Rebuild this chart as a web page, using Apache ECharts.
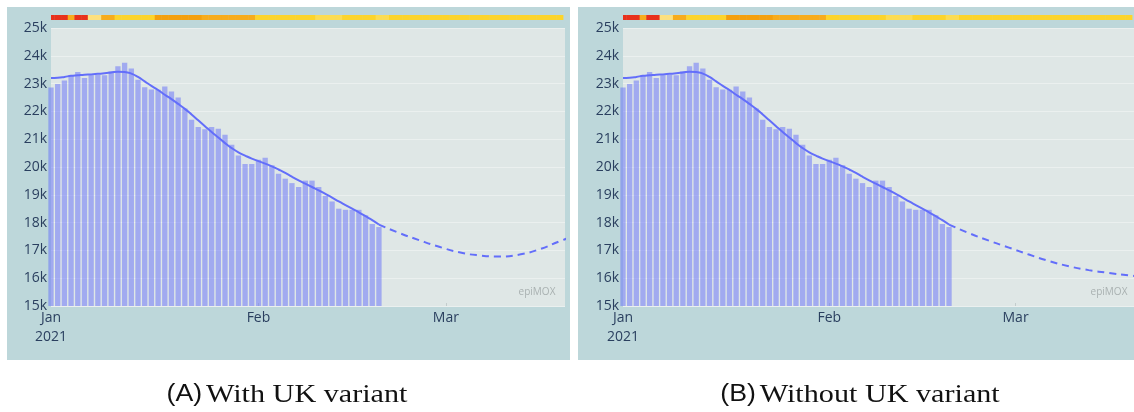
<!DOCTYPE html>
<html>
<head>
<meta charset="UTF-8">
<title>epiMOX forecast</title>
<script src="https://cdn.jsdelivr.net/npm/echarts@6/dist/echarts.min.js"></script>
<style>
  html, body { margin: 0; padding: 0; background: #fff; }
  #main { width: 1134px; height: 412px; }
</style>
</head>
<body>
<div id="main"></div>
<script type="text/javascript">
// daily observed values (one bar per day from 1 Jan 2021)
var barValues = [
  22860, 22990, 23110, 23300, 23420, 23200, 23300, 23320, 23300, 23440,
  23620, 23750, 23540, 23140, 22870, 22790, 22780, 22900, 22720, 22500,
  22100, 21700, 21440, 21360, 21440, 21380, 21160, 20800, 20410, 20110,
  20110, 20260, 20330, 20060, 19760, 19580, 19420, 19280, 19510, 19510,
  19280, 18960, 18760, 18500, 18460, 18460, 18460, 18260, 17950, 17840
];
// smoothed trend, same days as the bars
var trendValues = [
  23200, 23210, 23240, 23280, 23300, 23320, 23330, 23350, 23370, 23400,
  23430, 23420, 23360, 23240, 23080, 22920, 22770, 22600, 22440, 22270,
  22090, 21890, 21680, 21470, 21260, 21060, 20860, 20680, 20530, 20410,
  20300, 20210, 20120, 20020, 19910, 19790, 19650, 19520, 19400, 19280,
  19160, 19030, 18900, 18760, 18630, 18500, 18370, 18230, 18090, 17930
];
// forecasts (dashed), day numbers counted from 1 Jan
var forecastDays = [49, 52, 55, 58, 61, 64, 67, 70, 73, 76, 77];
var forecastA = [17930, 17630, 17370, 17130, 16930, 16820, 16780, 16850, 17040, 17330, 17420];
var forecastB = [17930, 17620, 17350, 17100, 16850, 16620, 16430, 16290, 16190, 16100, 16080];
// colour level of the strip above the plot, one per day
var stripLevels = [
  0, 0, 0, 2, 0, 0, 4, 4, 2, 2,
  3, 3, 3, 3, 3, 3, 1, 1, 1, 1,
  1, 1, 1, 2, 2, 2, 2, 2, 2, 2,
  2, 3, 3, 3, 3, 3, 3, 3, 3, 3,
  5, 5, 5, 5, 3, 3, 3, 3, 3, 5,
  5, 3, 3, 3, 3, 3, 3, 3, 3, 3,
  3, 3, 3, 3, 3, 3, 3, 3, 3, 3,
  3, 3, 3, 3, 3, 3, 3
];
var stripColors = ['#e8311c', '#f4a00e', '#f7ac1c', '#fcd42c', '#fde07e', '#fcdc52'];
var monthTicks = [0, 31, 59];
var monthNames = ['Jan\n2021', 'Feb', 'Mar'];
var captions = ['(A)', '(B)'];
var captionTexts = ['With UK variant', 'Without UK variant'];

var blue = '#636efa';
var textColor = '#2a3f5f';

var barData = barValues.map(function (v, i) { return [i, v]; });
var trendData = trendValues.map(function (v, i) { return [i, v]; });
var stripData = stripLevels.map(function (l, i) { return [i, l]; });
function zip(days, vals) {
  return days.map(function (d, i) { return [d, vals[i]]; });
}

function renderCell(params, api) {
  var d = api.value(0);
  var p0 = api.coord([d - 0.5, 1]);
  var p1 = api.coord([d + 0.5, 0]);
  var rect = echarts.graphic.clipRectByRect({
    x: p0[0], y: p0[1], width: p1[0] - p0[0] + 0.4, height: p1[1] - p0[1]
  }, params.coordSys);
  return rect && { type: 'rect', shape: rect, style: { fill: stripColors[api.value(1)] } };
}

var panelLeft = [51, 623];
var grids = [], xAxes = [], yAxes = [], series = [];
var forecasts = [forecastA, forecastB];

for (var p = 0; p < 2; p++) {
  // main plot
  grids.push({ left: panelLeft[p], top: 28, width: 514, height: 278, show: true,
    backgroundColor: '#dfe7e6', borderWidth: 0 });
  // colour strip
  grids.push({ left: panelLeft[p], top: 15, width: 514, height: 5 });

  xAxes.push({
    type: 'value', gridIndex: 2 * p, min: 0, max: 76.8,
    axisLine: { show: false },
    splitLine: { show: false },
    axisTick: { show: true, inside: true, length: 3, customValues: [31, 59],
      lineStyle: { color: '#c3cccc' } },
    axisLabel: {
      customValues: monthTicks, color: textColor, fontSize: 14, lineHeight: 19,
      fontFamily: 'Open Sans', margin: 3,
      formatter: function (v) { return monthNames[monthTicks.indexOf(v)]; }
    }
  });
  xAxes.push({ type: 'value', gridIndex: 2 * p + 1, min: 0, max: 76.8, show: false });

  yAxes.push({
    type: 'value', gridIndex: 2 * p, min: 15000, max: 25000, interval: 1000,
    axisLine: { show: false }, axisTick: { show: false },
    splitLine: { lineStyle: { color: '#ebf0ef', width: 1 } },
    axisLabel: { color: textColor, fontSize: 14, fontFamily: 'Open Sans', margin: 4,
      formatter: function (v) { return (v / 1000) + 'k'; } }
  });
  yAxes.push({ type: 'value', gridIndex: 2 * p + 1, min: 0, max: 1, show: false });

  series.push({
    type: 'bar', xAxisIndex: 2 * p, yAxisIndex: 2 * p, data: barData,
    barWidth: 5.3, clip: true,
    itemStyle: { color: blue, opacity: 0.5 }
  });
  series.push({
    type: 'line', xAxisIndex: 2 * p, yAxisIndex: 2 * p, data: trendData,
    smooth: true, symbol: 'none', z: 4,
    lineStyle: { color: blue, width: 2 }
  });
  series.push({
    type: 'line', xAxisIndex: 2 * p, yAxisIndex: 2 * p, data: zip(forecastDays, forecasts[p]),
    smooth: true, symbol: 'none', z: 4,
    lineStyle: { color: blue, width: 2, type: [7, 5] }
  });
  series.push({
    type: 'custom', xAxisIndex: 2 * p + 1, yAxisIndex: 2 * p + 1, data: stripData,
    renderItem: renderCell
  });
}

var graphics = [
  { type: 'rect', z: -10, shape: { x: 7, y: 7, width: 563, height: 353 }, style: { fill: '#bdd7da' } },
  { type: 'rect', z: -10, shape: { x: 578, y: 7, width: 570, height: 353 }, style: { fill: '#bdd7da' } }
];
var markX = [537, 1109];
var capX = [287, 860];
for (var q = 0; q < 2; q++) {
  graphics.push({ type: 'text', x: markX[q], y: 292, z: 10,
    style: { text: 'epiMOX', fill: '#a9b1b1', font: '10px "Open Sans"', align: 'center', verticalAlign: 'middle' } });
  // caption under each panel, stretched sideways like the original figure
  graphics.push({ type: 'text', x: capX[q], y: 395, scaleX: 1.16, originX: 0, originY: 0,
    style: {
      text: '{a|' + captions[q] + '} {b|' + captionTexts[q] + '}',
      align: 'center', verticalAlign: 'middle', fill: '#111',
      rich: {
        a: { fontFamily: 'Liberation Sans', fontSize: 23, fill: '#111' },
        b: { fontFamily: 'Liberation Serif', fontSize: 26, fill: '#111' }
      }
    } });
}

var myChart = echarts.init(document.getElementById('main'));
myChart.setOption({
  animation: false,
  grid: grids,
  xAxis: xAxes,
  yAxis: yAxes,
  series: series,
  graphic: graphics
});
</script>
</body>
</html>
